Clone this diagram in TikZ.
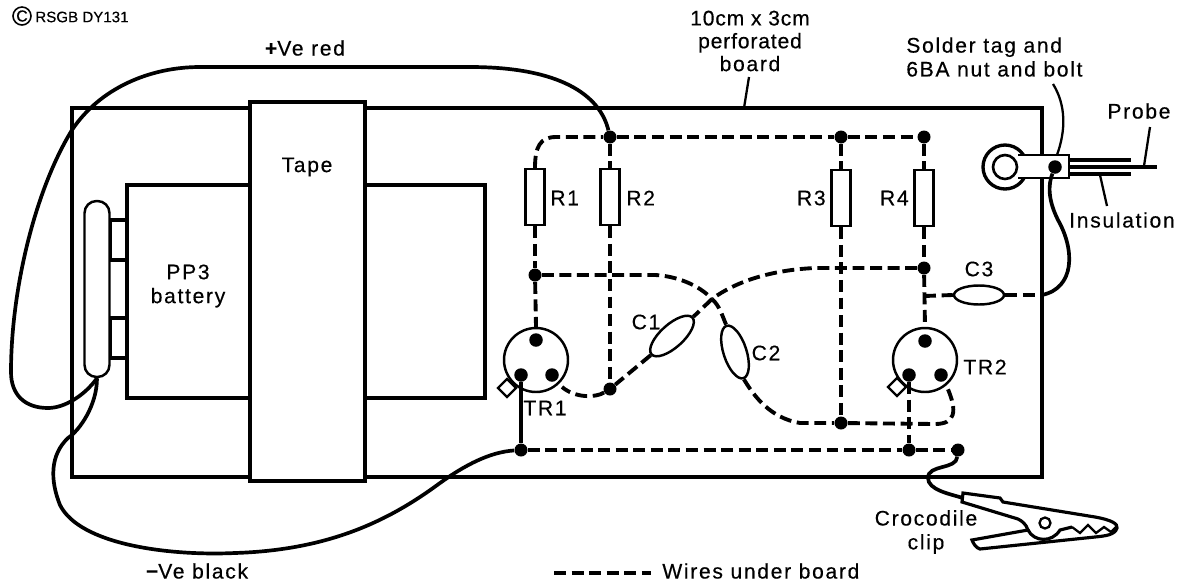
\documentclass[tikz,border=0pt]{standalone}
\usepackage{fontspec}
\setmainfont[LetterSpace=8,FakeBold=0.4]{Liberation Sans}
\usetikzlibrary{shapes.geometric}

\tikzset{
    jdot/.style={circle,fill=black,inner sep=0pt,minimum size=0.26cm},
    pindot/.style={circle,fill=black,inner sep=0pt,minimum size=0.27cm},
    resbox/.style={draw,line width=1.4pt,fill=white,inner sep=0pt,minimum width=0.38cm,minimum height=1.12cm},
    capbox/.style={draw,ellipse,line width=1.4pt,fill=white,inner sep=0pt,minimum width=1.1cm,minimum height=0.46cm},
    trbox/.style={draw,circle,line width=1.4pt,inner sep=0pt,minimum size=1.28cm},
    tabbox/.style={draw,diamond,line width=1.3pt,fill=white,inner sep=0pt,minimum size=0.38cm},
    wire/.style={line width=2.2pt,dash pattern=on 6.8pt off 3.2pt},
    lead/.style={line width=2.1pt},
    thin lead/.style={line width=1.3pt},
    outline/.style={line width=1.8pt},
    lab/.style={font=\fontsize{12}{12}\selectfont,inner sep=0pt,align=center}
}

\begin{document}
\begin{tikzpicture}[x=0.02cm,y=-0.02cm]
        \useasboundingbox (0,0) rectangle (1180,582);

        % board, battery and tape
        \draw[outline] (72,108) rectangle (1042,477);
        \draw[outline] (110,220) rectangle (127,260);
        \draw[outline] (110,318) rectangle (127,358);
        \draw[outline] (127,185) rectangle (485,398);
        \draw[outline,fill=white] (250,102) rectangle (365,481);
        \node[draw,line width=1.4pt,fill=white,rounded corners=0.24cm,inner sep=0pt,minimum width=0.5cm,minimum height=3.52cm] (plug) at (97,289) {};
        \node[lab] (tape) at (307,167) {Tape};
        \node[lab] (battery) at (188,286) {PP3\\[1.6pt]battery};

        % resistors
        \node[resbox] (R1box) at (535,197) {};
        \node[resbox] (R2box) at (610,197) {};
        \node[resbox] (R3box) at (841,198) {};
        \node[resbox] (R4box) at (924,198) {};
        \node[lab,anchor=west] (R1) at (550,198) {R1};
        \node[lab,anchor=west] (R2) at (626,198) {R2};
        \node[lab,anchor=east] (R3) at (826,198) {R3};
        \node[lab,anchor=east] (R4) at (909,198) {R4};

        % capacitors
        \node[capbox,rotate=42] (C1box) at (672,336) {};
        \node[capbox,rotate=-72] (C2box) at (735,352) {};
        \node[capbox,minimum width=1cm,minimum height=0.38cm] (C3box) at (979,295) {};
        \node[lab] (C1) at (646,322) {C1};
        \node[lab] (C2) at (766,353) {C2};
        \node[lab] (C3) at (979,269) {C3};

        % transistors
        \node[tabbox] (TR1tab) at (507,388) {};
        \node[tabbox] (TR2tab) at (897,387) {};
        \node[trbox,fill=white] (TR1case) at (536,360) {};
        \node[trbox,fill=white] (TR2case) at (925,360) {};
        \node[pindot] (TR1c) at (536,340) {};
        \node[pindot] (TR1e) at (521,375) {};
        \node[pindot] (TR1b) at (552,375) {};
        \node[pindot] (TR2c) at (925,341) {};
        \node[pindot] (TR2e) at (909,375) {};
        \node[pindot] (TR2b) at (941,375) {};
        \node[lab] (TR1) at (545,408) {TR1};
        \node[lab] (TR2) at (985,367) {TR2};

        % junctions
        \node[jdot] (jtopa) at (610,137) {};
        \node[jdot] (jtopb) at (841,137) {};
        \node[jdot] (jtopc) at (924,137) {};
        \node[jdot] (jmida) at (535,275) {};
        \node[jdot] (jmidb) at (924,268) {};
        \node[jdot] (jbase) at (610,389) {};
        \node[jdot] (jlowr) at (841,423) {};
        \node[jdot] (jearth) at (521,450) {};
        \node[jdot] (jearthb) at (909,450) {};
        \node[jdot] (jclip) at (958,450) {};
        \coordinate (jcross) at (712,299);
        \coordinate (jcthree) at (924,296);
        \coordinate (jedge) at (1042,295);
        \coordinate (jonebase) at (562,387);
        \coordinate (jtwobase) at (947,387);

        % wires under board
        \draw[wire] (R1box.north) .. controls (535,147) and (540,137) .. (556,137) -- (jtopa);
        \draw[wire] (jtopa) -- (jtopb);
        \draw[wire] (jtopb) -- (jtopc);
        \draw[wire] (jtopa) -- (R2box.north);
        \draw[wire] (jtopb) -- (R3box.north);
        \draw[wire] (jtopc) -- (R4box.north);
        \draw[wire] (R1box.south) -- (jmida);
        \draw[wire] (jmida) -- (TR1case.north);
        \draw[wire] (R2box.south) -- (jbase);
        \draw[wire] (R3box.south) -- (jlowr);
        \draw[wire] (R4box.south) -- (jmidb);
        \draw[wire] (jmidb) -- (TR2case.north);
        \draw[wire] (jmida) -- (655,275) .. controls (675,276) and (698,284) .. (jcross);
        \draw[wire] (jcross) .. controls (720,306) and (723,318) .. (C2box.west);
        \draw[wire] (C2box.east) .. controls (754,396) and (770,418) .. (800,423) -- (jlowr);
        \draw[wire] (jmidb) -- (815,268) .. controls (770,270) and (735,282) .. (jcross);
        \draw[wire] (jcross) -- (C1box.east);
        \draw[wire] (C1box.west) -- (jbase);
        \draw[wire] (jbase) .. controls (595,398) and (575,398) .. (jonebase);
        \draw[wire] (jlowr) -- (935,424) .. controls (955,424) and (958,412) .. (jtwobase);
        \draw[wire] (TR2e) -- (jearthb);
        \draw[wire] (jearth) -- (jearthb);
        \draw[wire] (jearthb) -- (jclip);
        \draw[wire] (jcthree) -- (C3box.west);
        \draw[wire] (C3box.east) -- (jedge);
        \draw[line width=1pt] (R3box.south) -- ++(0,6);

        % wires over board
        \draw[lead] (TR1e) -- (jearth);
        \draw[lead] (plug.south) .. controls (85,395) and (65,408) .. (48,408)
            .. controls (25,408) and (11,395) .. (11,372)
            .. controls (11,290) and (35,190) .. (72,130)
            .. controls (100,88) and (150,67) .. (200,67)
            -- (470,67) .. controls (560,67) and (600,95) .. (jtopa);
        \draw[lead] (plug.south) .. controls (97,405) and (80,430) .. (68,438)
            .. controls (50,455) and (50,480) .. (60,505)
            .. controls (80,545) and (170,556) .. (235,553)
            .. controls (330,550) and (390,520) .. (440,483)
            .. controls (465,465) and (490,452) .. (jearth);

        % probe and solder tag
        \draw[lead] (1069,160) -- (1131,160);
        \draw[lead] (1069,174) -- (1131,174);
        \draw[lead] (1069,167) -- (1157,167);
        \node[draw,circle,line width=1.9pt,fill=white,inner sep=0pt,minimum size=0.88cm] (tagring) at (1005,167) {};
        \draw[line width=1.6pt,fill=white] (1018,155) -- (1069,155) -- (1069,178) -- (1018,178);
        \node[draw,circle,line width=1.5pt,inner sep=0pt,minimum size=0.48cm] (tagring2) at (1005,167) {};
        \node[pindot] (tagbolt) at (1055,167) {};
        \draw[lead] (jedge) .. controls (1075,288) and (1075,250) .. (1058,220) .. controls (1048,200) and (1048,185) .. (tagbolt);

        % crocodile clip
        \draw[lead] (jclip) .. controls (956,470) and (928,464) .. (928,478) .. controls (928,490) and (950,494) .. (963,498);
        \draw[outline,fill=white] (962,502) -- (963,493) -- (1000,498) -- (1003,502) -- (1095,517)
            .. controls (1112,520) and (1118,524) .. (1117,528) .. controls (1115,535) and (1105,536) .. (1095,537)
            -- (980,549) .. controls (976,548) and (973,543) .. (972,540) -- (1028,530)
            .. controls (1026,524) and (1022,521) .. (1018,519) -- cycle;
        \draw[outline] (1028,530) .. controls (1034,542) and (1052,543) .. (1060,530) -- (1072,527);
        \node[draw,circle,line width=1.3pt,inner sep=0pt,minimum size=0.22cm] (clippin) at (1045,523) {};
        \draw[line width=1.3pt] (1072,527) -- (1080,533) -- (1088,525) -- (1096,533) -- (1104,527) -- (1111,532) -- (1116,527);

        % labels and leaders
        \node[font=\fontsize{8.6}{8.6}\selectfont,anchor=west,inner sep=0pt] (copyr) at (35,17) {\addfontfeature{LetterSpace=0}RSGB DY131};
        \node[draw,circle,line width=0.9pt,inner sep=0pt,minimum size=0.36cm,font=\fontsize{9}{9}\selectfont] (copyc) at (22,16) {\addfontfeature{LetterSpace=0}C};
        \node[lab] (pos) at (305,48) {{\bfseries +}Ve red};
        \node[lab] (neg) at (197,571) {{\bfseries −}Ve black};
        \node[lab] (perf) at (750,41) {\addfontfeature{LetterSpace=4}10cm x 3cm\\[1pt]\addfontfeature{LetterSpace=4}perforated\\[1pt]board};
        \node[lab,align=left,anchor=west] (solder) at (906,57) {Solder tag and\\[1.6pt]6BA nut and bolt};
        \node[lab] (probe) at (1139,111) {Probe};
        \node[lab] (insul) at (1122,220) {Insulation};
        \node[lab] (croc) at (926,532) {Crocodile\\[1.6pt]clip};
        \node[lab,anchor=west] (under) at (662,571) {Wires under board};
        \coordinate (keya) at (554,573);
        \coordinate (keyb) at (651,573);
        \draw[wire] (keya) -- (keyb);

        \coordinate (leadba) at (749,77);
        \coordinate (leadbb) at (744,108);
        \draw[thin lead] (leadba) -- (leadbb);
        \coordinate (leadsa) at (1053,84);
        \coordinate (leadsb) at (1057,155);
        \draw[thin lead] (leadsa) .. controls (1066,105) and (1066,130) .. (leadsb);
        \coordinate (leadpa) at (1150,127);
        \coordinate (leadpb) at (1144,166);
        \draw[thin lead] (leadpa) -- (leadpb);
        \coordinate (leadia) at (1107,206);
        \coordinate (leadib) at (1100,175);
        \draw[thin lead] (leadia) -- (leadib);
    \end{tikzpicture}
\end{document}
